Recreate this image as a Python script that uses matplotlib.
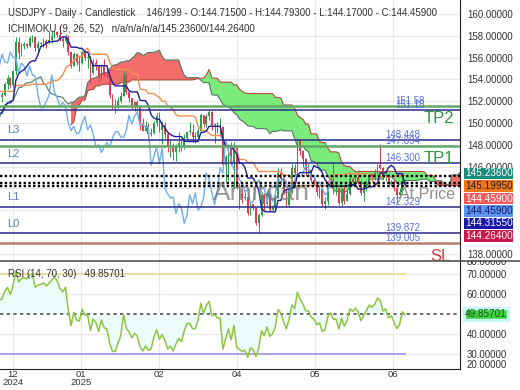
import numpy as np
import pandas as pd
import matplotlib
matplotlib.use("Agg")
import matplotlib.pyplot as plt
from matplotlib.lines import Line2D
from matplotlib.transforms import Bbox

plt.rcParams['font.family'] = ['Liberation Sans', 'DejaVu Sans']

# warm-up bars before the visible window (01 Oct - 11 Dec 2024)
first_open = 143.5
pre_close = [143.6, 146.4, 147.0, 148.7, 148.2, 148.2, 149.3, 148.6, 149.1, 149.8,
             149.2, 149.6, 150.1, 149.5, 150.8, 151.0, 152.7, 151.8, 152.3, 153.3,
             153.4, 153.4, 152.0, 153.0, 152.2, 151.6, 154.6, 152.9, 152.6, 153.7,
             154.6, 155.5, 156.3, 154.3, 154.7, 154.6, 155.4, 154.5, 154.7, 154.2,
             153.1, 151.1, 151.6, 149.8, 149.6, 149.6, 150.6, 150.0, 150.0, 151.2,
             151.9, 152.4]
pre_high = [144.0, 146.5, 147.2, 149.0, 149.0, 148.4, 149.4, 149.5, 149.3, 149.9,
            149.9, 149.8, 150.3, 150.3, 150.9, 151.3, 153.2, 152.8, 152.5, 153.9,
            153.9, 153.8, 153.4, 153.1, 153.0, 152.4, 154.7, 154.7, 153.2, 153.9,
            154.8, 155.6, 156.7, 156.8, 155.0, 155.0, 155.9, 155.5, 155.0, 154.9,
            154.5, 153.2, 151.9, 151.6, 150.8, 150.1, 151.0, 151.0, 150.5, 151.4,
            152.1, 152.8]
pre_low = [142.9, 143.4, 146.0, 146.5, 147.8, 147.4, 148.0, 148.3, 148.2, 149.0,
           148.9, 149.0, 149.3, 149.1, 149.4, 150.5, 151.0, 151.6, 151.7, 152.3,
           152.8, 152.6, 151.7, 151.8, 151.7, 151.3, 151.6, 152.6, 152.2, 152.5,
           153.5, 154.5, 155.2, 153.9, 153.3, 153.3, 154.4, 153.9, 154.2, 153.5,
           152.9, 150.5, 151.0, 149.5, 149.0, 149.1, 149.6, 149.8, 149.3, 149.9,
           151.1, 151.6]

# visible bars (12 Dec 2024 - 04 Jul 2025)
close = [152.6, 153.6, 154.1, 153.5, 154.8, 157.4, 156.4, 157.1, 157.2, 157.1,
         157.8, 157.9, 156.9, 157.2, 157.3, 157.5, 157.3, 157.6, 158.0, 158.3,
         158.1, 157.7, 157.5, 157.9, 156.5, 155.2, 156.3, 155.6, 155.5, 156.5,
         156.0, 156.0, 154.6, 155.5, 155.2, 154.3, 155.2, 154.4, 154.3, 152.6,
         151.4, 151.4, 152.0, 152.5, 154.4, 152.8, 152.3, 151.5, 151.9, 151.5,
         150.0, 149.3, 149.7, 149.0, 149.1, 150.0, 150.6, 149.4, 149.8, 149.0,
         147.8, 148.0, 147.3, 147.8, 148.2, 147.8, 148.6, 149.2, 149.2, 148.7,
         148.7, 149.3, 150.7, 149.9, 150.6, 151.0, 149.8, 149.9, 149.6, 149.6,
         146.1, 146.9, 147.8, 146.3, 147.7, 144.0, 143.5, 143.1, 143.2, 141.7,
         142.6, 142.2, 140.8, 141.6, 143.4, 142.6, 143.6, 142.0, 142.3, 143.1,
         145.4, 144.9, 143.6, 142.5, 143.8, 145.9, 145.4, 148.4, 147.4, 146.7,
         145.7, 145.7, 144.8, 144.5, 143.7, 143.9, 142.6, 142.8, 144.3, 144.8,
         144.0, 144.0, 142.7, 143.9, 142.8, 143.5, 144.9, 144.6, 145.0, 144.6,
         143.6, 144.1, 144.7, 145.3, 145.1, 145.4, 146.1, 145.9, 145.0, 145.2,
         144.4, 144.6, 144.0, 143.4, 143.7, 144.715, 144.459]
high = [152.8, 153.8, 154.4, 154.2, 154.9, 157.9, 157.9, 157.3, 157.4, 157.3,
        158.0, 158.1, 158.0, 157.5, 157.4, 157.8, 157.7, 158.4, 158.4, 158.5,
        158.4, 158.9, 158.0, 158.2, 158.1, 156.6, 156.5, 156.4, 156.2, 156.6,
        156.8, 156.4, 156.1, 155.9, 155.9, 155.3, 155.4, 155.9, 155.0, 154.4,
        152.7, 152.2, 152.4, 152.8, 154.8, 154.6, 152.9, 152.3, 152.0, 152.1,
        151.6, 150.5, 150.2, 150.0, 149.5, 150.2, 150.9, 151.0, 150.2, 150.1,
        149.2, 148.4, 148.2, 148.1, 149.2, 148.5, 149.0, 149.3, 150.1, 149.9,
        149.2, 149.5, 150.9, 150.7, 150.8, 151.2, 151.1, 150.0, 150.1, 150.5,
        149.7, 147.1, 148.1, 148.3, 148.3, 147.8, 144.5, 143.9, 143.7, 143.4,
        142.8, 142.6, 142.2, 141.7, 143.7, 143.6, 143.8, 143.8, 142.5, 143.4,
        145.9, 145.9, 145.0, 143.9, 144.1, 146.2, 146.2, 148.6, 148.5, 147.5,
        146.8, 146.2, 145.7, 145.0, 144.6, 144.3, 144.0, 143.2, 144.5, 145.0,
        146.3, 144.5, 144.0, 144.0, 144.3, 143.9, 145.1, 145.0, 145.2, 145.5,
        144.8, 144.5, 144.8, 145.4, 145.4, 145.8, 146.2, 148.03, 145.96, 145.6,
        145.4, 144.8, 144.8, 144.1, 144.0, 145.0, 144.793]
low = [151.9, 152.5, 153.1, 153.3, 153.3, 154.4, 155.9, 156.1, 156.8, 156.9,
       157.0, 157.4, 156.6, 156.5, 157.1, 157.0, 156.9, 157.2, 157.3, 157.8,
       157.9, 157.5, 157.0, 157.3, 156.2, 155.0, 155.2, 155.3, 154.8, 155.4,
       155.8, 155.0, 153.7, 154.5, 154.9, 153.8, 154.0, 154.3, 154.1, 152.3,
       151.3, 150.9, 151.4, 151.8, 152.5, 152.7, 151.9, 151.3, 151.1, 151.0,
       149.4, 149.3, 149.3, 148.6, 148.8, 149.0, 149.7, 149.2, 148.1, 148.6,
       147.3, 146.9, 146.6, 146.5, 147.3, 147.4, 147.6, 148.4, 149.0, 148.3,
       148.2, 148.6, 149.2, 149.6, 149.6, 150.3, 149.4, 148.2, 149.1, 148.9,
       145.9, 144.6, 144.8, 146.1, 143.9, 143.9, 142.1, 142.7, 142.9, 141.6,
       141.6, 142.0, 140.6, 139.9, 141.5, 142.0, 142.5, 141.9, 141.9, 141.9,
       143.1, 144.3, 143.5, 142.3, 142.4, 143.6, 145.2, 145.4, 147.1, 146.0,
       145.1, 145.3, 144.6, 144.3, 143.3, 143.1, 142.4, 142.1, 142.5, 144.1,
       143.5, 143.4, 142.5, 142.369, 142.6, 142.8, 143.4, 144.3, 144.4, 144.4,
       143.4, 142.8, 143.8, 144.3, 144.6, 144.8, 145.3, 145.8, 144.8, 144.7,
       144.3, 144.2, 143.8, 142.671, 143.2, 143.6, 144.17]

month_tick_bars = [4, 28.6, 57, 85, 113.4, 141.7]
month_labels = ["12\n2024", "01\n2025", "02", "04", "05", "06"]

price_ticks = [138, 140, 142, 144, 146, 148, 150, 152, 154, 156, 158, 160]
hidden_price_ticks = [140, 142, 144]   # covered by the price tags

levels_green = [151.58, 147.894]
levels_navy = [151.18, 148.448, 146.300, 142.329, 139.872]
level_sl = 139.005
levels_dotted = [145.17, 144.459, 144.26]
level_texts = ["151.58", "151.18", "148.448", "147.894", "146.300", "142.329", "139.872", "139.005"]
level_values = [151.58, 151.18, 148.448, 147.894, 146.300, 142.329, 139.872, 139.005]
l_names = ["L3", "L2", "L1", "L0"]
l_values = [148.448, 146.300, 142.329, 139.872]

tag_values = ["145.23600", "145.19950", "144.45900", "144.45900", "144.31550", "144.26400"]
tag_colors = ["#1b8c7c", "#f0741a", "#f0585a", "#5a96ee", "#1818a8", "#c8184c"]
tag_text = ["white", "#222222", "white", "#1a1a6a", "white", "white"]

# ---------- indicators ----------
closes = np.array(pre_close + close)
highs = np.array(pre_high + high)
lows = np.array(pre_low + low)
opens = np.r_[first_open, closes[:-1]]
n_pre = len(pre_close)
x = np.arange(len(closes)) - n_pre
df = pd.DataFrame({"o": opens, "h": highs, "l": lows, "c": closes}, index=x)

tenkan = (df.h.rolling(9).max() + df.l.rolling(9).min()) / 2
kijun = (df.h.rolling(26).max() + df.l.rolling(26).min()) / 2
span_a = (tenkan + kijun) / 2
span_b = (df.h.rolling(52).max() + df.l.rolling(52).min()) / 2

delta = df.c.diff()
gain = delta.clip(lower=0).ewm(alpha=1 / 14, adjust=False).mean()
loss = (-delta.clip(upper=0)).ewm(alpha=1 / 14, adjust=False).mean()
rsi = 100 - 100 / (1 + gain / loss)

# ---------- figure ----------
W, H = 520, 390
fig = plt.figure(figsize=(5.2, 3.9), dpi=100)
fx = lambda px: px / W
fy = lambda py: 1 - py / H

ax = fig.add_axes([0, fy(261), fx(460), 261 / H])
ax_r = fig.add_axes([0, fy(369), fx(460), 108 / H], sharex=ax)

x_lo, x_hi = -0.74, 165.9
ax.set_xlim(x_lo, x_hi)
ax.set_ylim(137.34, 161.28)
ax_r.set_ylim(22.5, 76.5)

grid_c = "#e9e9e9"
for a in (ax, ax_r):
    a.set_xticks(month_tick_bars)
    a.grid(True, color=grid_c, lw=0.8)
    a.set_axisbelow(True)
    a.yaxis.tick_right()
    a.tick_params(length=0, labelsize=7, colors="#333333", pad=5)
    for s in ("top", "left"):
        a.spines[s].set_visible(False)
    a.spines["right"].set_color("#222222")
ax.tick_params(labelbottom=False)
ax.spines["bottom"].set_visible(False)
ax_r.set_xticklabels(month_labels, fontsize=6.8, linespacing=0.8)
ax_r.tick_params(axis="x", pad=1)

ax.set_yticks(price_ticks)
ax.set_yticklabels(["" if v in hidden_price_ticks else f"{v:.5f}" for v in price_ticks])
ax_r.set_yticks([30, 40, 60, 70])
ax_r.yaxis.set_major_formatter(matplotlib.ticker.FormatStrFormatter("%.5f"))

# cloud
xs = x + 26
a_v = span_a.values
b_v = span_b.values
ax.fill_between(xs, a_v, b_v, where=a_v >= b_v, interpolate=True, color="#f36d6d", lw=0, zorder=1)
ax.fill_between(xs, a_v, b_v, where=a_v < b_v, interpolate=True, color="#7beb7b", lw=0, zorder=1)
ax.plot(xs, a_v, color="#4d7a62", lw=0.8, zorder=1.5)
ax.plot(xs, b_v, color="#b24a3a", lw=0.8, zorder=1.5)

# candles
up = df.c >= df.o
colors = np.where(up, "#28a04a", "#e23a50")
ax.vlines(x, df.l, df.h, colors=colors, lw=0.7, zorder=2)
body_lo = np.minimum(df.o, df.c)
body_h = np.maximum(np.abs(df.c - df.o), 0.06)
ax.bar(x, body_h, bottom=body_lo, width=0.62, color=colors, lw=0, zorder=2)

# ichimoku lines
ax.plot(x - 26, df.c, color="#6fb0ea", lw=1.0, zorder=3)
ax.plot(x, kijun, color="#f29050", lw=1.0, zorder=3)
ax.plot(x, tenkan, color="#1f1f9c", lw=1.0, zorder=3)

# levels
for v in levels_green:
    ax.axhline(v, color="#63a86b", lw=1.8, zorder=4)
for v in levels_navy:
    ax.axhline(v, color="#2a2a8e", lw=1.1, zorder=4)
ax.axhline(level_sl, color="#b98070", lw=1.8, zorder=4)
for v in levels_dotted:
    ax.axhline(v, color="black", lw=1.7, ls=(0, (1, 1)), zorder=4)

for t, v in zip(level_texts, level_values):
    xp = 142.4 if len(t) == 6 else 138.8
    ax.text(xp, v, t, fontsize=7, color="#5a72d8", va="bottom", ha="left", zorder=5)
for t, v in zip(l_names, l_values):
    ax.text(1.8, v + 0.87, t, fontsize=8, color="#6b78b8", va="center", ha="left", zorder=5)

ax.text(158.3, 150.41, "TP2", fontsize=12, color="#2e9a3e", ha="center", va="center", zorder=5)
ax.text(158.3, 146.72, "TP1", fontsize=12, color="#2e9a3e", ha="center", va="center", zorder=5)
ax.text(158.9, 137.75, "SL", fontsize=12, color="#d83a3a", ha="center", va="center", zorder=5, clip_on=True)
ax.text(93.8, 143.58, "Amircan", fontsize=19, color="#7a7a7a", alpha=0.75, ha="center", va="center", zorder=5)
ax.text(154.0, 143.4, "At Price", fontsize=11.5, color="#8e8e8e", ha="center", va="center", zorder=5)

# RSI panel
vis = x >= -1
ax_r.fill_between(x[vis], rsi[vis], 50, color="#eefbfb", lw=0, zorder=1)
ax_r.plot([x_lo, x[-1]], [70, 70], color="#e6dc98", lw=1.3, zorder=2)
ax_r.plot([x_lo, x[-1]], [30, 30], color="#a898e6", lw=1.3, zorder=2)
ax_r.axhline(50, color="#555555", lw=1.2, ls=(0, (2, 2)), zorder=2)
ax_r.plot(x[vis], rsi[vis], color="#8cc63f", lw=1.1, zorder=3)
ax_r.spines["bottom"].set_color("#222222")

# separators
fig.add_artist(Line2D([0, 1], [fy(261), fy(261)], color="#555555", lw=1.2))

# header texts
hdr = dict(fontsize=7, color="#333333", ha="left", va="center")
fig.text(fx(8), fy(13), "USDJPY - Daily - Candlestick    146/199 - O:144.71500 - H:144.79300 - L:144.17000 - C:144.45900", **hdr)
fig.text(fx(8), fy(29.5), "ICHIMOKU (9, 26, 52)   n/a/n/a/n/a/145.23600/144.26400", **hdr)
fig.text(fx(8), fy(274), "RSI (14, 70, 30)   49.85701", **hdr)

# price tags
tag_y = [173.5, 186, 198.5, 211, 223.5, 236]
for val, c, tc, yp in zip(tag_values, tag_colors, tag_text, tag_y):
    fig.text(fx(465), fy(yp), val, fontsize=7.2, color=tc, ha="left", va="center",
             bbox=dict(boxstyle="square,pad=0.06", fc=c, ec="none"))

fig.text(fx(465), fy(314), "49.85701", fontsize=7.2, color="#1c5a1c", ha="left", va="center",
         bbox=dict(boxstyle="square,pad=0.12", fc="#3fd23f", ec="#c9f6f6", lw=2.5))

t80 = fig.text(fx(467), fy(262), "80.00000", fontsize=7, color="#333333", ha="left", va="center")
t80.set_clip_box(Bbox([[0, 0], [W, H - 261]]))
t80.set_clip_on(True)
fig.text(fx(467), fy(364.5), "20.00000", fontsize=7, color="#333333", ha="left", va="center")

fig.savefig("out.png", dpi=100)
